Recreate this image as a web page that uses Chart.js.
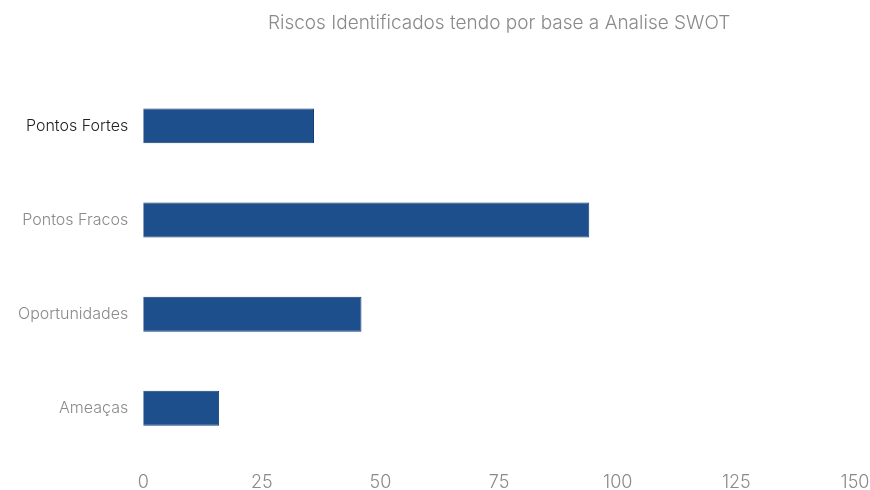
<!DOCTYPE html>
<html>
<head>
<meta charset="utf-8">
<script src="https://cdn.jsdelivr.net/npm/chart.js@4/dist/chart.umd.min.js"></script>
<style>
  html, body { margin: 0; padding: 0; background: #ffffff; }
  #wrap { width: 870px; height: 490px; position: relative; }
</style>
</head>
<body>
<div id="wrap"><canvas id="c" width="870" height="490"></canvas></div>
<script>
const titleText = "Riscos Identificados tendo por base a Analise SWOT";
const categories = ["Pontos Fortes", "Pontos Fracos", "Oportunidades", "Ameaças"];
const values = [36, 94, 46, 16];
const xTicks = [0, 25, 50, 75, 100, 125, 150];

const ctx = document.getElementById('c').getContext('2d');
new Chart(ctx, {
  type: 'bar',
  data: {
    labels: categories,
    datasets: [{
      data: values,
      backgroundColor: '#1d4f8c',
      borderColor: '#173f72',
      borderWidth: 1,
      categoryPercentage: 0.7,
      barPercentage: 0.53
    }]
  },
  options: {
    indexAxis: 'y',
    responsive: false,
    animation: false,
    layout: { padding: { left: 3, right: 0, top: 8, bottom: -19 } },
    plugins: {
      legend: { display: false },
      tooltip: { enabled: false },
      title: {
        display: true,
        text: titleText,
        fullSize: false,
        color: '#8a8a8a',
        font: { family: 'Inter', size: 19, weight: '300' },
        padding: { top: 4, bottom: 44 }
      }
    },
    scales: {
      x: {
        min: 0,
        max: 150,
        afterBuildTicks: (axis) => { axis.ticks = xTicks.map(v => ({ value: v })); },
        afterFit: (axis) => { axis.paddingRight = 15; },
        grid: { display: false, drawTicks: false },
        border: { display: false },
        ticks: {
          padding: 16,
          color: '#8a8a8a',
          font: { family: 'Inter', size: 18, weight: '300' }
        }
      },
      y: {
        grid: { display: false, drawTicks: false },
        border: { display: false },
        ticks: {
          padding: 15,
          color: (c) => c.index === 0 ? '#222222' : '#8a8a8a',
          font: { family: 'Inter', size: 16, weight: '300' }
        }
      }
    }
  }
});
</script>
</body>
</html>
